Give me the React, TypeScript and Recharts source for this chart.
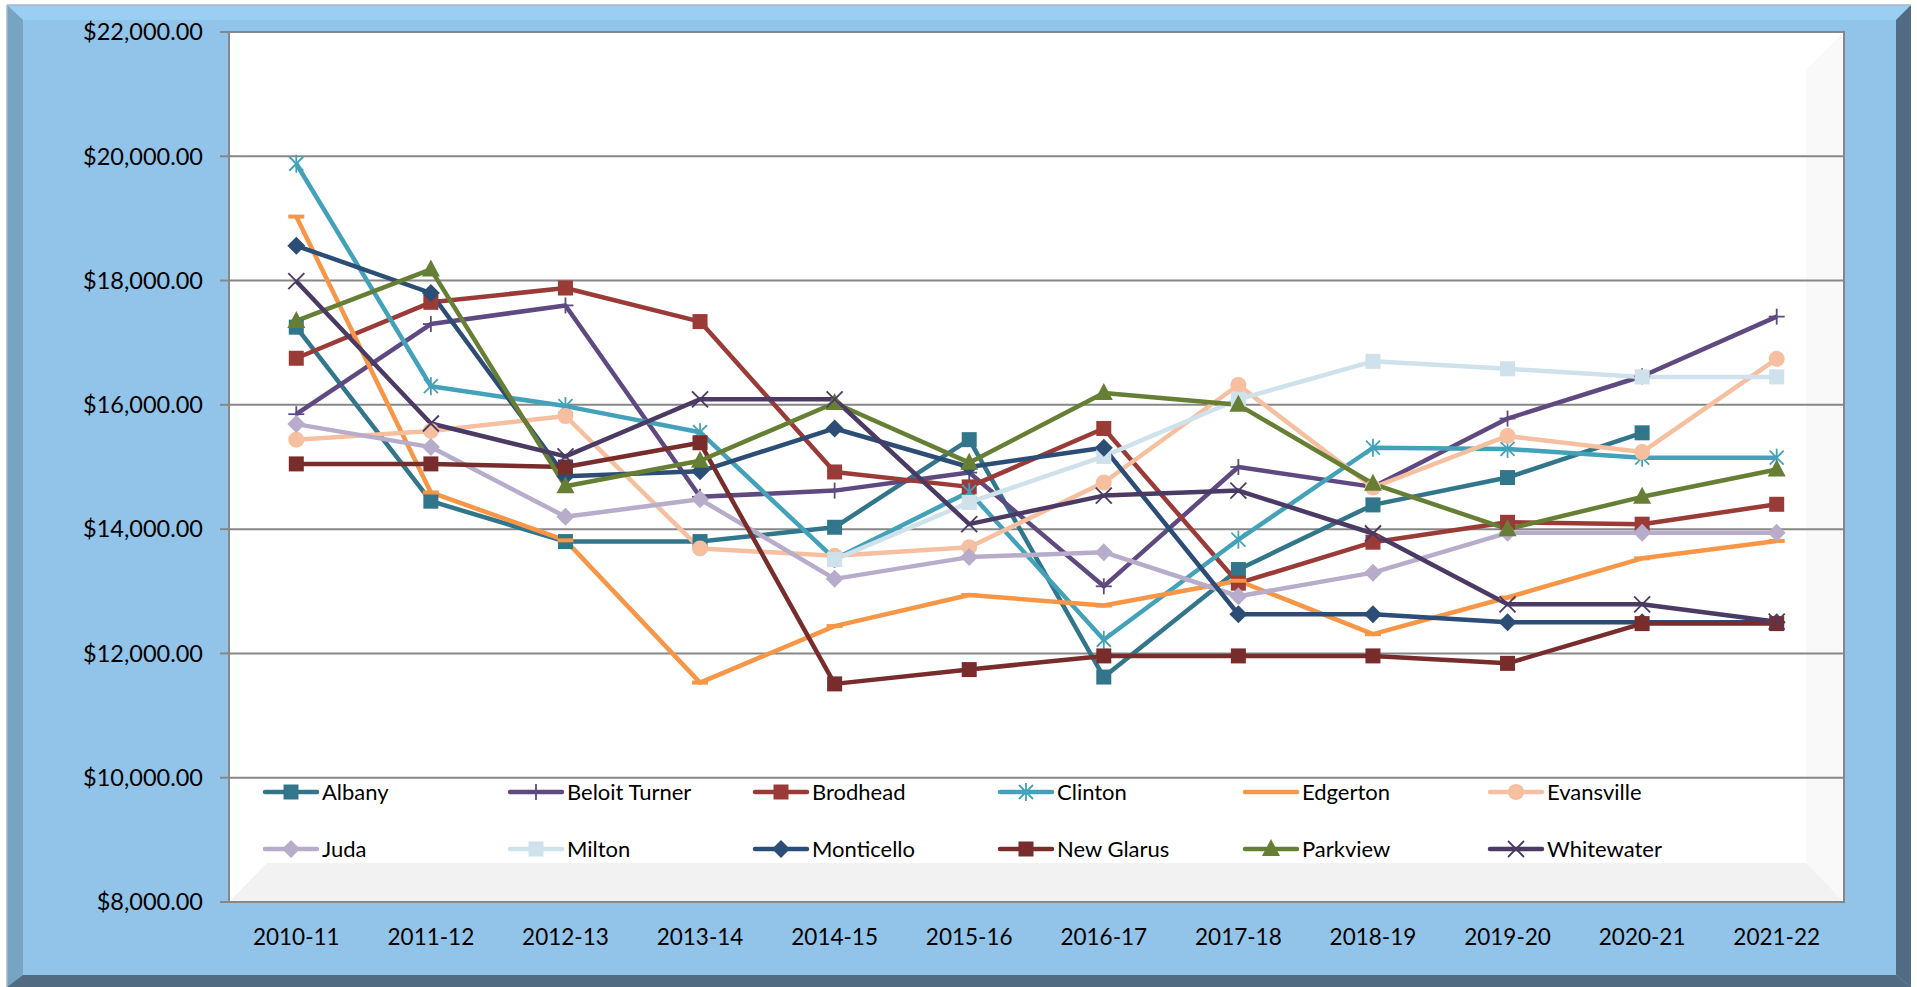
import { LineChart, Line, XAxis, YAxis, CartesianGrid, Legend } from 'recharts'

const categories = ['2010-11', '2011-12', '2012-13', '2013-14', '2014-15', '2015-16', '2016-17', '2017-18', '2018-19', '2019-20', '2020-21', '2021-22']

const albany = [17250, 14450, 13800, 13800, 14030, 15440, 11620, 13350, 14390, 14830, 15550, null]
const beloitTurner = [15850, 17300, 17600, 14520, 14620, 14910, 13080, 15000, 14680, 15780, 16460, 17420]
const brodhead = [16750, 17650, 17880, 17340, 14920, 14680, 15620, 13130, 13790, 14110, 14080, 14400]
const clinton = [19880, 16300, 15980, 15560, 13520, 14600, 12220, 13830, 15310, 15290, 15150, 15150]
const edgerton = [19030, 14590, 13820, 11530, 12440, 12940, 12770, 13170, 12310, 12900, 13530, 13810]
const evansville = [15440, 15580, 15820, 13690, 13570, 13710, 14750, 16320, 14670, 15500, 15240, 16740]
const juda = [15690, 15320, 14200, 14480, 13200, 13550, 13630, 12920, 13300, 13940, 13940, 13940]
const milton = [null, null, null, null, 13510, 14430, 15170, 16090, 16700, 16580, 16450, 16450]
const monticello = [18560, 17800, 14850, 14930, 15620, 15000, 15310, 12630, 12630, 12500, 12500, 12500]
const newGlarus = [15050, 15050, 15000, 15390, 11510, 11740, 11960, 11960, 11960, 11840, 12480, 12480]
const parkview = [17350, 18180, 14690, 15100, 16030, 15070, 16190, 16000, 14730, 14000, 14520, 14960]
const whitewater = [17990, 15700, 15170, 16090, 16090, 14080, 14540, 14620, 13930, 12790, 12790, 12510]

const yTicks = [8000, 10000, 12000, 14000, 16000, 18000, 20000, 22000]
const boundaryTicks = [0, 1, 2, 3, 4, 5, 6, 7, 8, 9, 10, 11, 12]

type MarkerKind = 'square' | 'plus' | 'asterisk' | 'dash' | 'circle' | 'diamond' | 'triangle' | 'x'

const SERIES: { name: string; values: (number | null)[]; color: string; marker: MarkerKind; legendMarker?: boolean }[] = [
  { name: 'Albany', values: albany, color: '#31768A', marker: 'square' },
  { name: 'Beloit Turner', values: beloitTurner, color: '#5E4A80', marker: 'plus' },
  { name: 'Brodhead', values: brodhead, color: '#9A3B38', marker: 'square' },
  { name: 'Clinton', values: clinton, color: '#43A2BA', marker: 'asterisk' },
  { name: 'Edgerton', values: edgerton, color: '#F79646', marker: 'dash', legendMarker: false },
  { name: 'Evansville', values: evansville, color: '#F6BFA0', marker: 'circle' },
  { name: 'Juda', values: juda, color: '#B8ACCB', marker: 'diamond' },
  { name: 'Milton', values: milton, color: '#CFE1EA', marker: 'square' },
  { name: 'Monticello', values: monticello, color: '#2C4D75', marker: 'diamond' },
  { name: 'New Glarus', values: newGlarus, color: '#782D2C', marker: 'square' },
  { name: 'Parkview', values: parkview, color: '#667F35', marker: 'triangle' },
  { name: 'Whitewater', values: whitewater, color: '#4A3A64', marker: 'x' },
]

const rows = categories.map((category, i) => {
  const row: Record<string, string | number | null> = { category }
  for (const s of SERIES) row[s.name] = s.values[i]
  return row
})

const FONT = 'Lato, "Liberation Sans", sans-serif'
const GRID = '#878787'

// frame / plot geometry (px)
const W = 1917
const H = 987
const PL = 229
const PR = 1844
const PT = 32
const PB = 902
const HALF_BAND = (PR - PL) / categories.length / 2

const money = (v: number) =>
  '$' + v.toLocaleString('en-US', { minimumFractionDigits: 2, maximumFractionDigits: 2 })

function Marker({ kind, cx, cy, color }: { kind: MarkerKind; cx: number; cy: number; color: string }) {
  const h = 8
  switch (kind) {
    case 'square':
      return <rect x={cx - 7.5} y={cy - 7.5} width={15} height={15} fill={color} />
    case 'circle':
      return <circle cx={cx} cy={cy} r={8} fill={color} />
    case 'diamond':
      return <polygon points={`${cx},${cy - 9} ${cx + 9},${cy} ${cx},${cy + 9} ${cx - 9},${cy}`} fill={color} />
    case 'triangle':
      return <polygon points={`${cx},${cy - 10} ${cx + 9},${cy + 7} ${cx - 9},${cy + 7}`} fill={color} />
    case 'dash':
      return <rect x={cx - 8} y={cy - 2} width={16} height={4} fill={color} />
    case 'plus':
      return (
        <g stroke={color} strokeWidth={1.8}>
          <line x1={cx - h} y1={cy} x2={cx + h} y2={cy} />
          <line x1={cx} y1={cy - h} x2={cx} y2={cy + h} />
        </g>
      )
    case 'x':
      return (
        <g stroke={color} strokeWidth={1.8}>
          <line x1={cx - h} y1={cy - h} x2={cx + h} y2={cy + h} />
          <line x1={cx - h} y1={cy + h} x2={cx + h} y2={cy - h} />
        </g>
      )
    case 'asterisk':
      return (
        <g stroke={color} strokeWidth={1.8}>
          <line x1={cx - 7} y1={cy - 7} x2={cx + 7} y2={cy + 7} />
          <line x1={cx - 7} y1={cy + 7} x2={cx + 7} y2={cy - 7} />
          <line x1={cx} y1={cy - 9} x2={cx} y2={cy + 9} />
        </g>
      )
  }
  return null
}

function LegendContent(props: any) {
  const payload = props.payload || []
  return (
    <div
      style={{
        display: 'grid',
        gridTemplateColumns: 'repeat(6, 245px)',
        gridAutoRows: '57px',
        fontFamily: FONT,
        fontSize: 22,
        color: '#000',
      }}
    >
      {payload.map((p: any) => {
        const s = SERIES.find((x) => x.name === p.value)
        if (!s) return null
        return (
          <div key={s.name} style={{ display: 'flex', alignItems: 'center', whiteSpace: 'nowrap' }}>
            <svg width={58} height={24} style={{ marginRight: 2 }}>
              <line x1={3} y1={12} x2={55} y2={12} stroke={s.color} strokeWidth={4.5} strokeLinecap="round" />
              {s.legendMarker !== false && <Marker kind={s.marker} cx={29} cy={12} color={s.color} />}
            </svg>
            <span>{s.name}</span>
          </div>
        )
      })}
    </div>
  )
}

function Frame() {
  return (
    <svg width={W} height={H} style={{ position: 'absolute', left: 0, top: 0 }}>
      <rect x={7} y={5} width={1904} height={982} fill="#92C3E8" />
      <polygon points="7,5 1911,5 1896,20 23,20" fill="#9ACEF2" />
      <polygon points="7,5 23,20 23,975 7,987" fill="#76A4C2" />
      <polygon points="1911,5 1911,987 1896,975 1896,20" fill="#506B82" />
      <polygon points="7,987 23,975 1896,975 1911,987" fill="#506B82" />
      <line x1={7} y1={5} x2={1911} y2={5} stroke="#A9B8C4" strokeWidth={1.5} />
      <line x1={7} y1={5} x2={7} y2={987} stroke="#A9B8C4" strokeWidth={1.5} />
      <rect x={PL} y={PT} width={PR - PL} height={PB - PT} fill="#FFFFFF" />
      <polygon points={`${PR - 38},${PT + 38} ${PR},${PT} ${PR},${PB} ${PR - 38},${PB - 39}`} fill="#F9F9F9" />
      <polygon points={`${PL},${PB} ${PL + 38},${PB - 39} ${PR - 38},${PB - 39} ${PR},${PB}`} fill="#F2F2F2" />
      <rect x={PL} y={PT} width={PR - PL} height={PB - PT} fill="none" stroke={GRID} strokeWidth={2} />
    </svg>
  )
}

export default function App() {
  return (
    <div style={{ position: 'absolute', left: 0, top: 0, width: W, height: H, overflow: 'hidden' }}>
      <Frame />
      <div style={{ position: 'absolute', left: 0, top: 0 }}>
        <LineChart
          width={W}
          height={H}
          data={rows}
          margin={{ top: PT, right: W - PR, bottom: H - PB - 60, left: 0 }}
        >
          <CartesianGrid vertical={false} stroke={GRID} strokeWidth={2} />
          <XAxis
            dataKey="category"
            interval={0}
            height={60}
            padding={{ left: HALF_BAND, right: HALF_BAND }}
            tickLine={false}
            tickSize={0}
            tickMargin={27}
            axisLine={{ stroke: GRID, strokeWidth: 2 }}
            tick={{ fontFamily: FONT, fontSize: 22.5, fill: '#000' }}
          />
          <XAxis
            xAxisId="bounds"
            type="number"
            domain={[0, 12]}
            ticks={boundaryTicks}
            allowDataOverflow
            height={0}
            tick={false}
            tickSize={9}
            tickLine={{ stroke: GRID, strokeWidth: 2 }}
            axisLine={false}
          />
          <YAxis
            width={PL}
            domain={[8000, 22000]}
            ticks={yTicks}
            interval={0}
            tickFormatter={money}
            tickSize={9}
            tickMargin={17}
            tickLine={{ stroke: GRID, strokeWidth: 2 }}
            axisLine={{ stroke: GRID, strokeWidth: 2 }}
            tick={{ fontFamily: FONT, fontSize: 23.5, fill: '#000' }}
          />
          <Legend
            layout="horizontal"
            verticalAlign="middle"
            align="center"
            content={LegendContent}
            wrapperStyle={{ left: 262, top: 763, width: 1540, height: 114 }}
          />
          {SERIES.map((s) => (
            <Line
              key={s.name}
              dataKey={s.name}
              type="linear"
              stroke={s.color}
              strokeWidth={4.5}
              strokeLinejoin="round"
              isAnimationActive={false}
              activeDot={false}
              dot={(p: any) => {
                if (p.cx == null || p.cy == null || p.value == null) return <g key={p.key ?? p.index} />
                return (
                  <g key={p.key ?? p.index}>
                    <Marker kind={s.marker} cx={p.cx} cy={p.cy} color={s.color} />
                  </g>
                )
              }}
            />
          ))}
        </LineChart>
      </div>
    </div>
  )
}
